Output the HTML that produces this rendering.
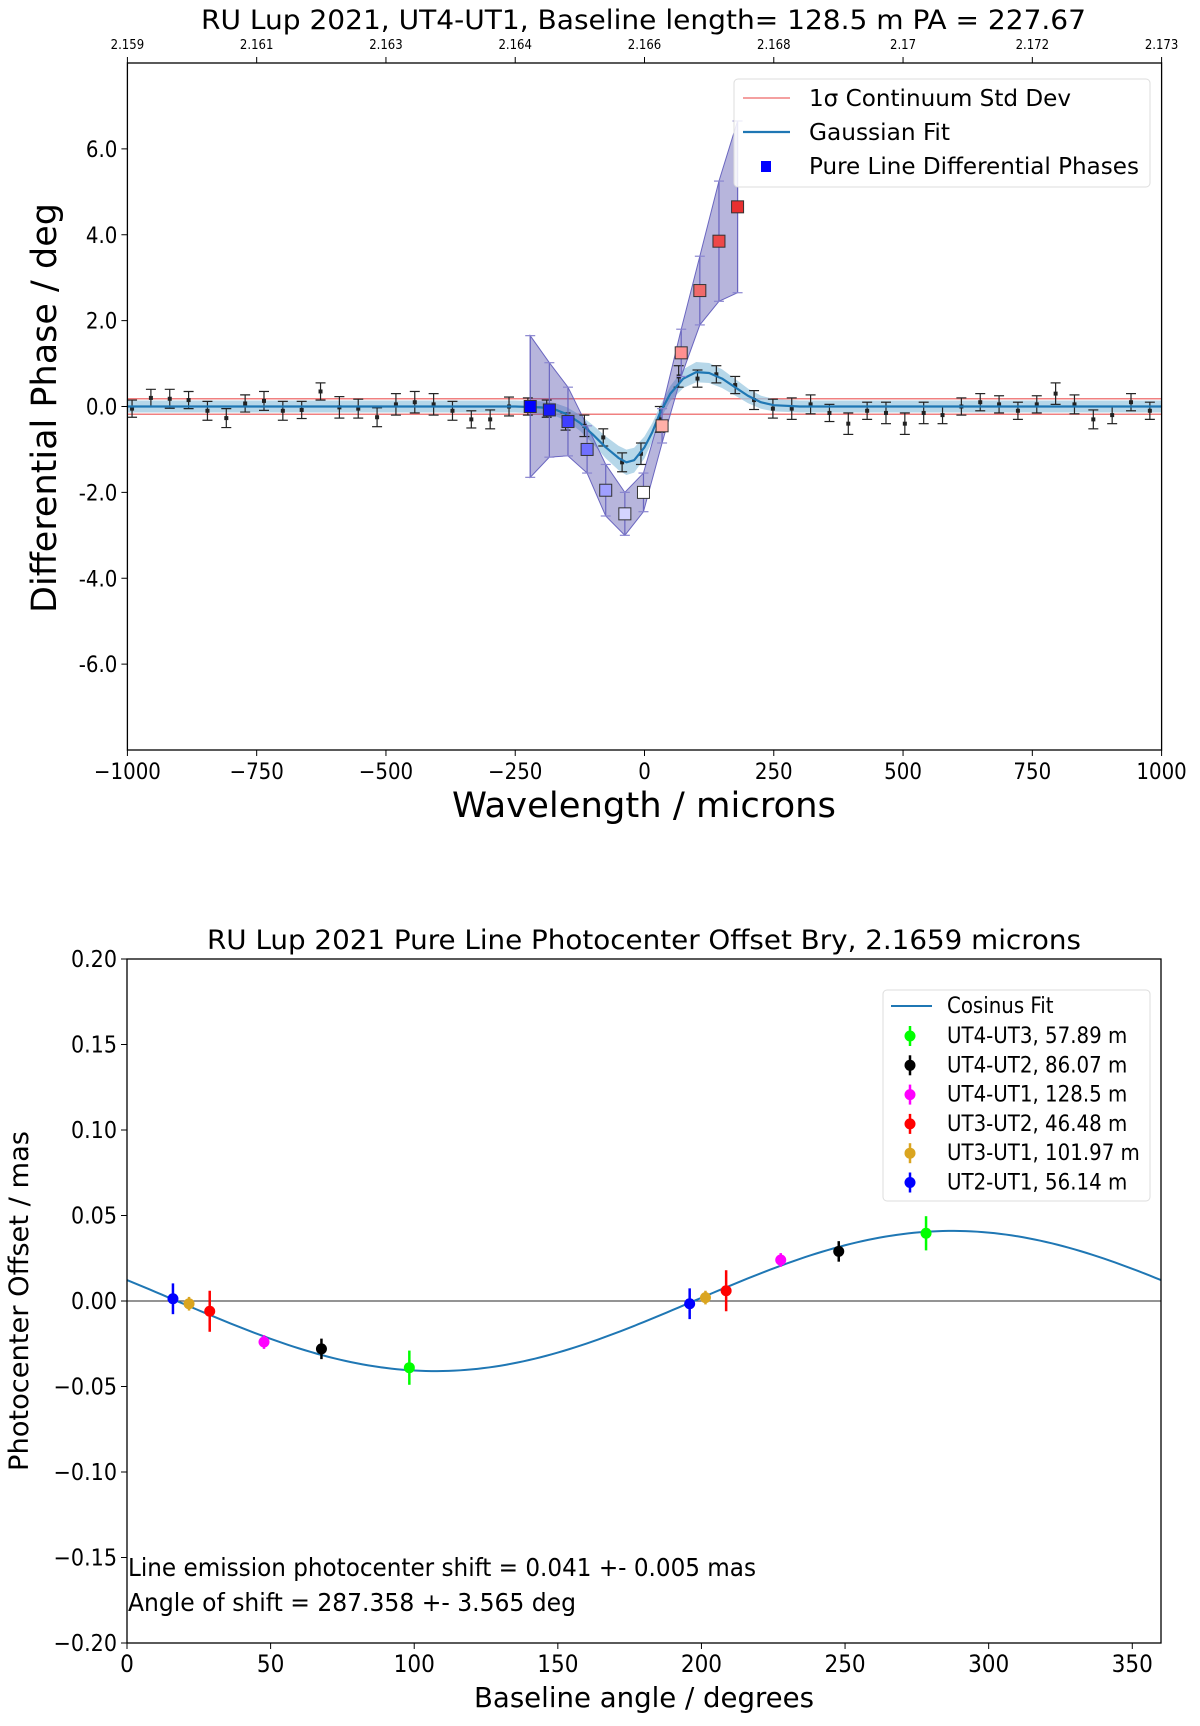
<!DOCTYPE html>
<html><head><meta charset="utf-8"><style>
html,body{margin:0;padding:0;background:#fff}
svg text{font-family:"DejaVu Sans Condensed","DejaVu Sans","Liberation Sans",sans-serif}
</style></head><body>
<svg id="fig" width="1200" height="1721" viewBox="0 0 1200 1721" xmlns="http://www.w3.org/2000/svg">
<rect width="1200" height="1721" fill="#fff"/>
<g id="top"></g>
<g id="bot"></g>
</svg>
<script>
// ---------- TOP CHART DATA ----------
const contX0 = -991, contStep = 36.45;
const contValues = [-0.05,0.2,0.18,0.15,-0.1,-0.27,0.07,0.13,-0.1,-0.08,0.35,-0.02,-0.05,-0.25,0.05,0.1,0.05,-0.1,-0.3,-0.3,0.0,0.0,-0.05,-0.35,-0.45,-0.72,-1.3,-1.1,-0.3,0.7,0.65,0.75,0.5,0.15,-0.05,-0.05,0.05,-0.15,-0.4,-0.1,-0.15,-0.4,-0.15,-0.2,0.0,0.1,0.05,-0.1,0.05,0.3,0.05,-0.3,-0.2,0.1,-0.1];
const contErrors = [0.2,0.2,0.22,0.2,0.22,0.22,0.2,0.22,0.22,0.2,0.2,0.25,0.22,0.22,0.25,0.25,0.25,0.22,0.2,0.22,0.22,0.2,0.2,0.2,0.25,0.2,0.22,0.25,0.3,0.25,0.2,0.2,0.2,0.22,0.22,0.25,0.22,0.2,0.25,0.2,0.25,0.25,0.25,0.2,0.2,0.2,0.2,0.2,0.2,0.25,0.22,0.22,0.2,0.2,0.2];
const fitX = [-1000,-300,-250,-200,-175,-150,-125,-100,-75,-50,-35,-20,0,15,30,50,75,100,125,150,175,200,225,250,300,1000];
const fitY = [0,0,0,-0.02,-0.06,-0.18,-0.38,-0.65,-0.95,-1.2,-1.3,-1.25,-0.95,-0.6,-0.15,0.3,0.65,0.8,0.78,0.65,0.45,0.25,0.1,0.03,0,0];
const pureX = [-221,-184,-148,-111,-75,-38,-2,34,71,107,144,180];
const pureValues = [0.0,-0.08,-0.35,-1.0,-1.95,-2.5,-2.0,-0.45,1.25,2.7,3.85,4.65];
const pureErrors = [1.65,1.1,0.8,0.55,0.6,0.5,0.45,0.4,0.55,0.8,1.4,2.0];
const pureColors = ["#0000ff","#1818f8","#4040ff","#7070ff","#a0a0ff","#d4d4ff","#ffffff","#ffb0a8","#ff9090","#f06a6a","#ee4848","#e83030"];
const contStd = [0.18];
const xTicks = [-1000,-750,-500,-250,0,250,500,750,1000];
const yTicks = [6,4,2,0,-2,-4,-6];
const yTickLabels = ["6.0","4.0","2.0","0.0","-2.0","-4.0","-6.0"];
const topTickLabels = ["2.159","2.161","2.163","2.164","2.166","2.168","2.17","2.172","2.173"];

// ---------- BOTTOM CHART DATA ----------
const bAngles = [16.0,21.6,28.8,47.7,67.7,98.3,195.9,201.4,208.6,227.6,247.8,278.2];
const bOffsets = [0.0013,-0.0016,-0.006,-0.024,-0.028,-0.039,-0.0016,0.002,0.006,0.024,0.029,0.0396];
const bErrors = [0.009,0.004,0.012,0.004,0.006,0.010,0.009,0.004,0.012,0.004,0.006,0.010];
const bGroup = [5,4,3,2,1,0,5,4,3,2,1,0];
const groupNames = ["UT4-UT3, 57.89 m","UT4-UT2, 86.07 m","UT4-UT1, 128.5 m","UT3-UT2, 46.48 m","UT3-UT1, 101.97 m","UT2-UT1, 56.14 m"];
const groupColors = ["#00ff00","#000000","#ff00ff","#ff0000","#daa520","#0000ff"];
const fitAmplitude = [0.041];
const fitAngle = [287.358];
const bxTicks = [0,50,100,150,200,250,300,350];
const byTicks = [0.20,0.15,0.10,0.05,0.00,-0.05,-0.10,-0.15,-0.20];

const NS="http://www.w3.org/2000/svg";
function mk(parent,tag,attrs,text){const e=document.createElementNS(NS,tag);for(const k in attrs)e.setAttribute(k,attrs[k]);if(text!==undefined)e.textContent=text;parent.appendChild(e);return e;}

// ===== TOP =====
const T=document.getElementById('top');
const L1=127.4,R1=1161.6,Tp1=63,B1=750;
const xs=v=>L1+(v+1000)/2000*(R1-L1);
const ys=v=>Tp1+(8-v)/16*(B1-Tp1);
let e;
e=mk(T,'defs',{});
const cp=mk(e,'clipPath',{id:'c1'});mk(cp,'rect',{x:L1,y:Tp1,width:R1-L1,height:B1-Tp1});
const g1=mk(T,'g',{'clip-path':'url(#c1)'});
e=mk(g1,'line',{x1:L1,x2:R1,y1:ys(contStd[0]),y2:ys(contStd[0]),stroke:'#f08080','stroke-width':1.5});

e=mk(g1,'line',{x1:L1,x2:R1,y1:ys(-contStd[0]),y2:ys(-contStd[0]),stroke:'#f08080','stroke-width':1.5});

let up=[],lo=[];
for(let i=0;i<fitX.length;i++){const w=0.14+Math.abs(fitY[i])*0.12;up.push(xs(fitX[i])+','+ys(fitY[i]+w));lo.unshift(xs(fitX[i])+','+ys(fitY[i]-w));}
e=mk(g1,'polygon',{points:up.concat(lo).join(' '),fill:'#9ecae1','fill-opacity':0.75});

up=[];lo=[];
for(let i=0;i<pureX.length;i++){up.push(xs(pureX[i])+','+ys(pureValues[i]+pureErrors[i]));lo.unshift(xs(pureX[i])+','+ys(pureValues[i]-pureErrors[i]));}
e=mk(g1,'polygon',{points:up.concat(lo).join(' '),fill:'#4a45a8','fill-opacity':0.4,stroke:'#6a66c0','stroke-width':1});

for(let i=0;i<contValues.length;i++){
  const x=xs(contX0+i*contStep),y=ys(contValues[i]),a=ys(contValues[i]+contErrors[i]),b=ys(contValues[i]-contErrors[i]);
  const g=mk(g1,'g',{});
  
  mk(g,'line',{x1:x,x2:x,y1:a,y2:b,stroke:'#222','stroke-width':1.2});
  mk(g,'line',{x1:x-5,x2:x+5,y1:a,y2:a,stroke:'#222','stroke-width':1.2});
  mk(g,'line',{x1:x-5,x2:x+5,y1:b,y2:b,stroke:'#222','stroke-width':1.2});
  mk(g,'rect',{x:x-2,y:y-2,width:4,height:4,fill:'#222'});
}
e=mk(g1,'polyline',{points:fitX.map((v,i)=>xs(v)+','+ys(fitY[i])).join(' '),fill:'none',stroke:'#1f77b4','stroke-width':2.2,'stroke-linejoin':'round'});

for(let i=0;i<pureX.length;i++){
  const x=xs(pureX[i]),a=ys(pureValues[i]+pureErrors[i]),b=ys(pureValues[i]-pureErrors[i]);
  const g=mk(g1,'g',{});
  
  mk(g,'line',{x1:x,x2:x,y1:a,y2:b,stroke:'#6a66c0','stroke-width':1.2});
  mk(g,'line',{x1:x-5,x2:x+5,y1:a,y2:a,stroke:'#8a86d0','stroke-width':1.2});
  mk(g,'line',{x1:x-5,x2:x+5,y1:b,y2:b,stroke:'#8a86d0','stroke-width':1.2});
  mk(g,'rect',{x:x-6,y:ys(pureValues[i])-6,width:12,height:12,fill:pureColors[i],stroke:'#333','stroke-width':1});
}
mk(T,'rect',{x:L1,y:Tp1,width:R1-L1,height:B1-Tp1,fill:'none',stroke:'#000','stroke-width':1.3});
xTicks.forEach(v=>{const x=xs(v);mk(T,'line',{x1:x,x2:x,y1:B1,y2:B1+6,stroke:'#000'});
  e=mk(T,'text',{x:x,y:B1+29,'font-size':22,'text-anchor':'middle'},v<0?'\u2212'+Math.abs(v):String(v));
  });
topTickLabels.forEach((s,i)=>{const x=L1+i/8*(R1-L1);mk(T,'line',{x1:x,x2:x,y1:Tp1,y2:Tp1-6,stroke:'#000'});
  e=mk(T,'text',{x:x,y:Tp1-14,'font-size':13,'text-anchor':'middle'},s);
  });
yTicks.forEach((v,i)=>{const y=ys(v);mk(T,'line',{x1:L1,x2:L1-6,y1:y,y2:y,stroke:'#000'});
  e=mk(T,'text',{x:L1-10,y:y+8,'font-size':22,'text-anchor':'end'},yTickLabels[i]);
  });
e=mk(T,'text',{x:201,y:29,'font-size':27,textLength:885,lengthAdjust:'spacingAndGlyphs'},'RU Lup 2021, UT4-UT1,  Baseline length= 128.5 m PA = 227.67');

e=mk(T,'text',{x:452,y:817,'font-size':35,'font-family':'DejaVu Sans, sans-serif',textLength:384,lengthAdjust:'spacingAndGlyphs'},'Wavelength / microns');

e=mk(T,'text',{x:0,y:0,'font-size':35,'font-family':'DejaVu Sans, sans-serif',textLength:410,lengthAdjust:'spacingAndGlyphs',transform:'translate(56 613) rotate(-90)'},'Differential Phase / deg');

const lg=mk(T,'g',{});

mk(lg,'rect',{x:734,y:79,width:416,height:108,rx:4,fill:'#fff','fill-opacity':0.85,stroke:'#ddd'});
mk(lg,'line',{x1:743,x2:790,y1:98,y2:98,stroke:'#f08080','stroke-width':1.5});
mk(lg,'text',{x:809,y:106,'font-size':23,textLength:262,lengthAdjust:'spacingAndGlyphs'},'1\u03c3 Continuum Std Dev');
mk(lg,'line',{x1:743,x2:790,y1:132,y2:132,stroke:'#1f77b4','stroke-width':2.2});
mk(lg,'text',{x:809,y:140,'font-size':23,textLength:141,lengthAdjust:'spacingAndGlyphs'},'Gaussian Fit');
mk(lg,'rect',{x:761,y:161,width:10,height:11,fill:'#0000ff'});
mk(lg,'text',{x:809,y:174,'font-size':23,textLength:330,lengthAdjust:'spacingAndGlyphs'},'Pure Line Differential Phases');

// ===== BOTTOM =====
const B=document.getElementById('bot');
const L2=127,R2=1161,Tp2=959,B2=1643;
const bx=v=>L2+v/360*(R2-L2);
const by=v=>Tp2+(0.2-v)/0.4*(B2-Tp2);
const d2=mk(B,'defs',{});const cp2=mk(d2,'clipPath',{id:'c2'});mk(cp2,'rect',{x:L2,y:Tp2,width:R2-L2,height:B2-Tp2});
const g2=mk(B,'g',{'clip-path':'url(#c2)'});
e=mk(g2,'line',{x1:L2,x2:R2,y1:by(0),y2:by(0),stroke:'#555','stroke-width':1.2});

let pts=[];for(let t=0;t<=360;t+=2){pts.push(bx(t)+','+by(fitAmplitude[0]*Math.cos((t-fitAngle[0])*Math.PI/180)));}
e=mk(g2,'polyline',{points:pts.join(' '),fill:'none',stroke:'#1f77b4','stroke-width':2});

for(let i=0;i<bAngles.length;i++){
  const x=bx(bAngles[i]),c=groupColors[bGroup[i]];
  const g=mk(g2,'g',{});
  
  mk(g,'line',{x1:x,x2:x,y1:by(bOffsets[i]+bErrors[i]),y2:by(bOffsets[i]-bErrors[i]),stroke:c,'stroke-width':2.5});
  mk(g,'circle',{cx:x,cy:by(bOffsets[i]),r:5.5,fill:c});
}
mk(B,'rect',{x:L2,y:Tp2,width:R2-L2,height:B2-Tp2,fill:'none',stroke:'#000','stroke-width':1.3});
bxTicks.forEach(v=>{const x=bx(v);mk(B,'line',{x1:x,x2:x,y1:B2,y2:B2+6,stroke:'#000'});
  e=mk(B,'text',{x:x,y:B2+29,'font-size':24,'text-anchor':'middle'},String(v));
  });
byTicks.forEach(v=>{const y=by(v);mk(B,'line',{x1:L2,x2:L2-6,y1:y,y2:y,stroke:'#000'});
  e=mk(B,'text',{x:L2-10,y:y+8,'font-size':23,'text-anchor':'end'},(v<0?'\u2212':'')+Math.abs(v).toFixed(2));
  });
e=mk(B,'text',{x:207,y:949,'font-size':27,textLength:874,lengthAdjust:'spacingAndGlyphs'},'RU Lup 2021 Pure Line Photocenter Offset Bry, 2.1659 microns');

e=mk(B,'text',{x:474,y:1707,'font-size':28,textLength:340,lengthAdjust:'spacingAndGlyphs'},'Baseline angle / degrees');

e=mk(B,'text',{x:0,y:0,'font-size':27,'font-family':'DejaVu Sans, sans-serif',textLength:340,lengthAdjust:'spacingAndGlyphs',transform:'translate(28 1471) rotate(-90)'},'Photocenter Offset / mas');

e=mk(B,'text',{x:128,y:1576,'font-size':25,textLength:628,lengthAdjust:'spacingAndGlyphs'},'Line emission photocenter shift = 0.041 +- 0.005 mas');

e=mk(B,'text',{x:128,y:1611,'font-size':25,textLength:448,lengthAdjust:'spacingAndGlyphs'},'Angle of shift =  287.358 +- 3.565 deg');

const lg2=mk(B,'g',{});

mk(lg2,'rect',{x:883,y:990,width:267,height:211,rx:4,fill:'#fff','fill-opacity':0.85,stroke:'#ddd'});
mk(lg2,'line',{x1:891,x2:932,y1:1006,y2:1006,stroke:'#1f77b4','stroke-width':2});
mk(lg2,'text',{x:947,y:1013,'font-size':22},'Cosinus Fit');
groupNames.forEach((n,i)=>{const y=1036+i*29.3;
  const it=mk(lg2,'g',{});
  
  mk(it,'line',{x1:910,x2:910,y1:y-10,y2:y+10,stroke:groupColors[i],'stroke-width':2.5});
  mk(it,'circle',{cx:910,cy:y,r:5.5,fill:groupColors[i]});
  mk(it,'text',{x:947,y:y+7,'font-size':22},n);});
</script>
</body></html>
